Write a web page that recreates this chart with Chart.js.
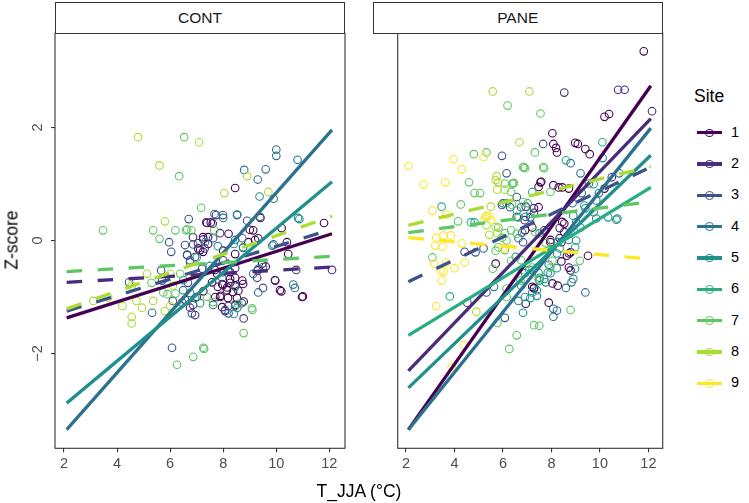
<!DOCTYPE html>
<html>
<head>
<meta charset="utf-8">
<script src="https://cdn.jsdelivr.net/npm/chart.js@4.4.1/dist/chart.umd.min.js"></script>
<style>
  body { margin: 0; background: #fff; }
  #wrap { position: relative; width: 749px; height: 503px; font-family: "Liberation Sans", Arial, sans-serif; }
  #wrap canvas { position: absolute; top: 0; }
  .strip { position: absolute; top: 2px; height: 32px; box-sizing: border-box; border: 1.1px solid #333;
           background: #fff; text-align: center; line-height: 30px; font-size: 15.5px; color: #1a1a1a; }
  .ytitle { position: absolute; left: 12px; top: 240px; transform: translate(-50%, -50%) rotate(-90deg);
            font-size: 17.5px; color: #000; white-space: nowrap; }
  .xtitle { position: absolute; left: 359px; top: 491px; transform: translate(-50%, -50%);
            font-size: 17.5px; color: #000; white-space: nowrap; }
  .legtitle { position: absolute; left: 694px; top: 86px; font-size: 17.5px; color: #000; }
  .key { position: absolute; left: 697px; width: 25px; height: 3.4px; }
  .dot { position: absolute; left: 705.3px; width: 8.4px; height: 8.4px; box-sizing: border-box;
         border-radius: 50%; border: 1.1px solid; background: transparent; }
  .leglab { position: absolute; left: 731px; font-size: 14.5px; color: #000; }
</style>
</head>
<body>
<div id="wrap">
  <canvas id="cont" width="360" height="503" style="left:0;width:360px;height:503px"></canvas>
  <canvas id="pane" width="320" height="503" style="left:360px;width:320px;height:503px"></canvas>
  <div class="strip" style="left:55px;width:290px">CONT</div>
  <div class="strip" style="left:372.7px;width:290px">PANE</div>
  <div class="ytitle">Z-score</div>
  <div class="xtitle">T_JJA (°C)</div>
  <div class="legtitle">Site</div>
  <div id="legend"></div>
</div>
<script>
// viridis, one per site
const siteColors = ['#440154', '#472D7B', '#3B528B', '#2C728E', '#21908C', '#27AD81', '#5DC863', '#AADC32', '#FDE725'];
const siteLabels = ['1', '2', '3', '4', '5', '6', '7', '8', '9'];
const xTicks = [2, 4, 6, 8, 10, 12];
const yTicks = [-2, 0, 2];
const fitX = [2.1, 12.1];

// CONT points, [T_JJA, Z-score]
const cont1 = [[8.45,0.93],[11.8,0.31],[10.2,0.22],[7.53,0.32],[7.6,0.3],[9.13,0.18],[8.2,0.12],[9.32,0.04],[8.95,-0.03],[10.4,-0.03],[8.0,-0.18],[8.45,-0.24],[9.47,-0.41],[9.6,-0.46],[10.45,-0.24],[9.3,-0.53],[7.06,-0.14],[7.43,-0.06],[7.0,-1.0],[7.25,-0.9],[7.7,-1.0],[7.77,-0.59],[8.26,-0.68],[8.45,-0.66],[8.72,-0.71],[8.75,-0.77],[7.96,-0.77],[8.15,-0.83],[8.45,-0.8],[8.57,-0.89],[7.9,-0.98],[8.77,-1.08],[9.96,-0.71],[10.19,-0.9],[11.0,-0.99],[9.4,0.4],
    [7.39,0.31],[9.0,0.19],[7.43,0.06],[7.24,0.06],[7.13,-0.17],[7.24,-0.2],[7.69,-0.52],[8.26,-0.56],[7.58,-0.74],[7.99,-0.79],[8.26,-0.75],[8.14,-0.88],[8.37,-0.91],[7.88,-1.0],[8.18,-1.02],[8.52,-1.02],[7.96,-1.18],[8.45,-1.14],[10.14,-0.88],[10.97,-1.0],[6.56,-1.05],[9.2,0.01]];
const cont2 = [[7.36,0.32],[7.25,0.02],[7.3,-0.14],[8.19,-1.16],[8.07,-1.25],[10.75,-0.52],[12.1,-0.52],[9.28,-0.66],[8.77,-1.38],[6.75,-1.19],[7.2,-0.5],[8.0,-0.35],
    [7.73,0.45],[7.88,0.13],[6.86,0.06],[7.05,-0.05],[7.99,-0.56],[8.45,-0.49],[7.8,-0.82],[6.86,-1.14],[6.94,-1.32],[9.95,-0.7]];
const cont3 = [[6.7,0.38],[8.9,0.35],[5.96,-0.03],[6.04,-0.2],[6.87,-0.07],[6.64,-0.25],[6.75,-0.39],[5.66,-0.53],[4.45,-0.74],[5.7,-0.71],[6.07,-1.9],[9.5,-0.84],[6.1,-1.07],[6.45,-1.1],[8.07,-1.23],
    [7.99,0.45],[7.62,0.04],[6.56,-0.08],[6.64,-0.26],[6.75,-0.35],[6.94,-0.29],[8.75,-0.13],[6.67,-0.75],[6.82,-1.29],[8.2,-1.29]];
const cont4 = [[8.79,1.25],[9.3,1.08],[9.6,1.26],[10.0,1.61],[10.0,1.5],[10.8,1.43],[9.9,0.74],[7.67,0.47],[8.0,0.4],[8.53,0.46],[9.5,-0.47],[9.9,-0.07],[5.32,-1.28],[8.72,0.04],[9.85,-0.09],[9.32,-0.5],[9.13,-0.59],[7.96,-0.66],[9.32,-0.92],[8.53,-1.19],[10.64,-0.78],[8.45,-1.16],
    [8.52,0.45],[9.39,0.42],[8.45,0.01],[10.7,-0.84],[6.75,-0.93],[7.62,-1.14],[8.7,-1.11],[6.49,-0.88]];
const cont5 = [[9.37,0.78],[10.87,0.38],[8.75,-0.12],[8.4,-0.06],[7.8,-0.1],[7.0,-0.3],[6.5,-0.7],[7.5,-0.45],
    [10.82,0.4],[7.31,-0.03],[6.94,-1.02],[7.13,-1.11],[8.45,-0.82],[8.4,-1.3]];
const cont7 = [[6.53,1.83],[6.34,1.14],[3.47,0.18],[7.17,0.58],[5.36,0.18],[5.6,0.03],[6.2,0.18],[6.6,0.18],[6.8,0.18],[7.66,0.18],[6.38,-0.59],[5.3,-0.75],[5.74,-0.92],[5.9,-0.95],[6.2,-0.94],[7.25,-1.9],[6.26,-2.2],[6.87,-2.06],[7.28,-1.92],[8.77,-1.64],[9.1,-1.23],[8.57,-1.12],
    [6.64,0.2],[7.62,-1.09],[7.39,-1.0],[9.08,-1.2]];
const cont8 = [[4.79,1.83],[7.09,1.74],[5.6,1.33],[8.04,0.84],[8.9,1.14],[9.7,0.86],[5.8,0.34],[5.13,-0.59],[6.0,-0.59],[4.55,-0.8],[6.1,-0.8],[3.1,-1.07],[3.66,-1.01],[4.2,-1.16],[4.73,-1.07],[4.94,-1.19],[5.36,-1.07],[6.0,-1.16],[5.8,-1.25],[4.55,-1.35],[4.55,-1.47]];
const contSites = [1, 2, 3, 4, 5, 7, 8];
const contPoints = [cont1, cont2, cont3, cont4, cont5, cont7, cont8];
const contFitFrom = [-1.37, -0.74, -1.25, -3.35, -2.88, -0.55, -1.21];
const contFitTo = [0.12, -0.47, 0.2, 1.96, 1.04, -0.28, 0.43];
const contDashed = [false, true, true, false, false, true, true];

// PANE points
const pane1 = [[11.81,3.35],[10.19,2.19],[10.38,2.24],[8.04,1.9],[8.08,1.71],[8.19,1.64],[8.23,1.56],[9.09,1.71],[9.4,1.62],[9.58,1.53],[8.98,1.73],[7.55,1.03],[8.08,0.98],[8.3,0.94],[8.45,0.94],[8.72,0.92],[10.19,0.92],[7.28,0.57],[7.47,0.59],[6.91,0.18],[7.21,0.23],[7.96,-0.03],[8.34,0.04],[8.53,0.3],[6.94,-1.12],[7.28,-0.85],[7.89,-1.1],[8.04,-0.76],[8.26,-0.8],[8.79,-0.53],[8.72,-0.48],[8.64,-0.27],[8.72,-0.23],[8.79,-0.21],[8.41,-0.37],[9.51,-0.27],[5.7,-0.41],[7.28,-0.84],
    [7.58,1.04],[7.47,0.95],[8.45,0.33],[8.53,0.15],[7.96,0.01],[8.41,-0.03],[7.21,-0.82]];
const pane2 = [[8.53,2.62],[10.75,2.67],[11.02,2.67],[12.15,2.29],[6.94,0.6],[7.7,0.18],[6.9,0.36],[10.49,1.12],
    [8.34,0.22],[7.28,0.49],[6.57,0.42]];
const pane3 = [[7.66,1.71],[5.96,1.5],[6.15,1.19],[6.0,0.66],[6.3,0.59],[6.75,0.59],[7.13,0.41],[4.42,-0.2],[5.2,-0.14],[4.53,-1.1],[6.08,-1.37],[4.87,-0.21],[5.32,-0.92],
    [6.57,0.77],[5.96,0.63],[6.83,-0.03]];
const pane4 = [[8.79,1.37],[9.2,1.19],[9.55,1.01],[10.8,1.19],[9.25,0.84],[8.87,0.66],[9.85,0.71],[6.79,0.14],[8.08,-1.21],[8.23,-1.24],[8.08,-1.35],[9.4,-0.92],[8.6,-0.84],[9.96,0.84],
    [6.94,0.42],[8.72,0.01],[6.64,0.04],[7.89,-0.43],[8.83,-0.74],[5.63,-0.82]];
const pane5 = [[10.11,1.46],[10.34,0.41],[10.72,0.39],[9.74,0.5],[9.36,0.62],[9.4,0.57],[9.85,0.39],[10.68,0.37],[8.9,0.44],[9.02,0.32],[9.2,0.23],[9.02,0.0],[7.85,-0.57],[7.7,-0.68],[7.47,-0.57],[7.5,-0.71],[7.21,-0.92],[7.4,-0.98],[6.64,-1.07],[6.83,-1.28],[8.98,-0.5],[8.9,-0.68],[8.26,-0.03],[8.34,-0.14],[8.23,-0.23],
    [7.96,-0.58],[8.22,-0.49],[6.91,-0.58],[7.09,-0.52],[7.51,-0.66],[7.77,-0.74],[6.75,-0.8],[7.4,-0.88],[6.91,-1.0],[7.13,-1.02]];
const pane6 = [[10.1,1.74],[3.47,0.6],[4.83,0.32],[4.68,0.32],[3.81,-0.99],[9.74,1.0],[8.98,-0.12],[6.57,0.53],[7.13,0.48],[6.64,0.41],[8.6,1.42],
    [7.21,0.86],[6.15,0.66],[7.02,0.66],[7.51,0.13],[6.53,-0.29]];
const pane7 = [[6.19,2.39],[7.55,2.25],[7.32,1.56],[4.8,1.53],[5.32,1.56],[4.6,1.03],[4.83,0.84],[5.06,0.84],[6.42,1.01],[6.87,1.3],[7.7,1.28],[4.26,0.64],[4.15,0.34],[5.7,-0.18],[3.09,-0.3],[5.77,-1.46],[6.57,-1.68],[6.26,-1.92],[7.28,-1.5],[7.5,-1.51],[8.79,-1.23],[9.17,-0.36],[5.58,-0.5],[6.72,-0.71],[6.15,-0.85],[6.34,-0.36],[6.91,-0.53],[7.21,-0.48],[7.47,-0.68],[7.77,-0.05],[7.89,-0.18],[8.04,-0.36],[7.96,-0.48],[6.08,1.01],[6.38,1.01],[5.81,0.23],[5.96,0.05],[6.15,0.0],[6.57,0.12],[6.91,1.28],[6.34,0.18],
    [6.83,1.3],[7.66,1.3],[6.45,1.02],[6.34,0.86],[7.96,0.86],[6.38,0.63],[6.83,0.68],[7.32,0.15],[6.08,0.13],[5.81,-0.12],[6.08,-0.17],[6.75,-0.35],[6.15,-1.0]];
const pane8 = [[5.58,2.64],[7.09,2.64],[6.68,1.74],[5.74,1.14],[5.81,1.03],[5.32,0.43],[5.32,0.27],[4.9,-1.26],[5.5,0.6],
    [5.7,1.07],[5.77,0.9],[6.08,0.9],[5.7,0.24],[5.77,0.13],[5.44,0.1]];
const pane9 = [[5.2,1.48],[3.96,1.44],[2.11,1.32],[4.3,1.26],[2.72,0.99],[3.62,1.03],[3.09,0.53],[3.66,0.46],[5.25,0.39],[5.43,0.43],[3.25,0.05],[3.55,0.09],[3.85,0.09],[3.21,-0.09],[3.51,-0.11],[4.3,-0.05],[6.0,-0.14],[3.17,-0.41],[3.66,-0.39],[4.0,-0.49],[4.42,-0.39],[3.43,-0.53],[3.55,-0.55],[3.47,-0.71],[3.25,-1.16],[4.38,-1.85],[3.89,-2.24],[5.32,0.44],[5.51,0.36]];
const paneSites = [1, 2, 3, 4, 5, 6, 7, 8, 9];
const panePoints = [pane1, pane2, pane3, pane4, pane5, pane6, pane7, pane8, pane9];
const paneFitFrom = [-3.35, -2.31, -0.73, -3.35, -2.61, -1.68, 0.14, 0.27, 0.05];
const paneFitTo = [2.74, 2.16, 1.3, 1.99, 1.51, 0.94, 0.69, 1.31, -0.33];
const paneDashed = [false, false, true, false, false, false, true, true, true];

// ggplot-like panel border
const frame = {
    id: 'frame',
    afterDraw(chart) {
        const a = chart.chartArea;
        const ctx = chart.ctx;
        ctx.save();
        ctx.strokeStyle = '#333333';
        ctx.lineWidth = 1.1;
        ctx.strokeRect(a.left, a.top, a.right - a.left, a.bottom - a.top);
        ctx.restore();
    }
};

function makePanel(id, sites, points, fitFrom, fitTo, dashed, showY, padding) {
    const datasets = [];
    sites.forEach((s, i) => {
        const col = siteColors[s - 1];
        datasets.push({
            type: 'line',
            data: [{ x: fitX[0], y: fitFrom[i] }, { x: fitX[1], y: fitTo[i] }],
            borderColor: col,
            borderWidth: 3.3,
            borderDash: dashed[i] ? [15.5, 15.5] : [],
            borderCapStyle: 'butt',
            pointRadius: 0,
            fill: false,
            order: 10 - s
        });
        datasets.push({
            type: 'scatter',
            data: points[i].map(p => ({ x: p[0], y: p[1] })),
            borderColor: col,
            backgroundColor: 'rgba(0,0,0,0)',
            pointRadius: 3.8,
            pointBorderWidth: 1.1,
            order: 20 - s
        });
    });

    return new Chart(document.getElementById(id), {
        type: 'scatter',
        data: { datasets },
        options: {
            responsive: false,
            animation: false,
            events: [],
            layout: { padding },
            plugins: { legend: { display: false }, tooltip: { enabled: false } },
            scales: {
                x: {
                    type: 'linear', min: 1.66, max: 12.59,
                    afterBuildTicks: (s) => { s.ticks = xTicks.map(v => ({ value: v })); },
                    afterFit: (s) => { s.height = 28; },
                    grid: { drawOnChartArea: false, color: '#333333', tickLength: 4, lineWidth: 1.1 },
                    border: { display: false },
                    ticks: { color: '#4D4D4D', font: { size: 14.5, family: '"Liberation Sans", Arial, sans-serif' }, padding: 3, maxRotation: 0 }
                },
                y: {
                    type: 'linear', min: -3.68, max: 3.67,
                    display: showY,
                    afterBuildTicks: (s) => { s.ticks = yTicks.map(v => ({ value: v })); },
                    afterFit: (s) => { s.width = 25; },
                    grid: { drawOnChartArea: false, color: '#333333', tickLength: 4, lineWidth: 1.1 },
                    border: { display: false },
                    ticks: {
                        color: '#4D4D4D', font: { size: 14.5, family: '"Liberation Sans", Arial, sans-serif' },
                        padding: 5, minRotation: 90, maxRotation: 90, crossAlign: 'center',
                        callback: (v) => v < 0 ? '\u2212' + Math.abs(v) : String(v)
                    }
                }
            }
        },
        plugins: [frame]
    });
}

makePanel('cont', contSites, contPoints, contFitFrom, contFitTo, contDashed, true,
    { left: 30, right: 15, top: 33.3, bottom: 26.7 });
makePanel('pane', paneSites, panePoints, paneFitFrom, paneFitTo, paneDashed, false,
    { left: 12.7, right: 17.3, top: 33.3, bottom: 26.7 });

// legend: line + open circle per site
const legend = document.getElementById('legend');
siteLabels.forEach((lab, i) => {
    const cy = 132.7 + i * 31.33;
    const col = siteColors[i];
    legend.insertAdjacentHTML('beforeend',
        `<div class="key" style="top:${cy - 1.7}px;background:${col}"></div>` +
        `<div class="dot" style="top:${cy - 4.2}px;border-color:${col}"></div>` +
        `<div class="leglab" style="top:${cy - 9}px">${lab}</div>`);
});
</script>
</body>
</html>
